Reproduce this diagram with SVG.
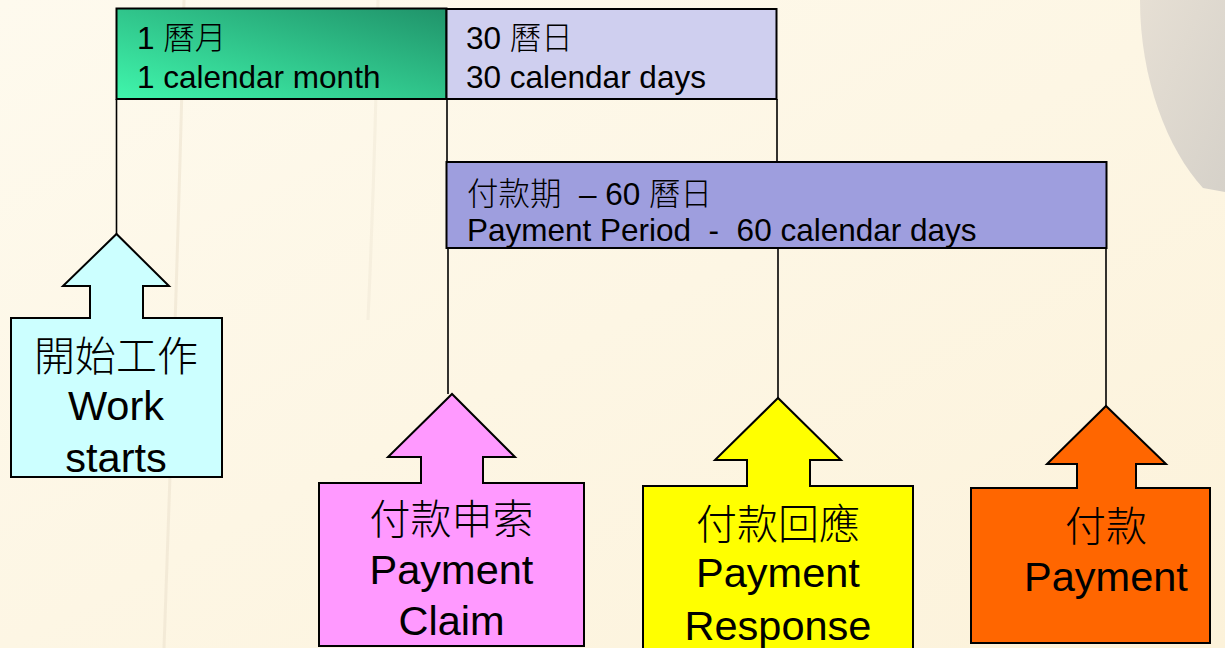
<svg xmlns="http://www.w3.org/2000/svg" width="1225" height="648" viewBox="0 0 1225 648">
<defs>
<linearGradient id="bg" x1="0" y1="0" x2="1" y2="1">
<stop offset="0" stop-color="#FEFAEE"/>
<stop offset="1" stop-color="#FCF2DA"/>
</linearGradient>
<linearGradient id="green" x1="0" y1="1" x2="1" y2="0">
<stop offset="0" stop-color="#40F6AC"/>
<stop offset="1" stop-color="#20936A"/>
</linearGradient>
<linearGradient id="ball" x1="0" y1="0" x2="1" y2="1">
<stop offset="0" stop-color="#E2DBD1"/>
<stop offset="1" stop-color="#CFCBC5"/>
</linearGradient>
</defs>
<style>
.box{stroke:#000;stroke-width:2}
.conn line{stroke:#000;stroke-width:1.6}
.sm{font-family:"Liberation Sans","Noto Sans CJK TC",sans-serif;font-size:31.5px;fill:#000}
.big{font-family:"Liberation Sans","Noto Sans CJK TC",sans-serif;font-size:41.5px;fill:#000;text-anchor:middle}
.cjk{font-family:"Noto Sans CJK TC",sans-serif;font-size:41px;font-weight:300;fill:#000;text-anchor:middle}
.cjks{font-family:"Noto Sans CJK TC",sans-serif;font-weight:300}
</style>
<rect width="1225" height="648" fill="url(#bg)"/>
<path d="M184,0 C180,200 172,420 164,648" fill="none" stroke="#ECE3CE" stroke-width="3" opacity="0.6"/>
<path d="M378,0 C376,120 372,230 368,320" fill="none" stroke="#F0E8D5" stroke-width="3" opacity="0.5"/>
<path d="M1140,0 C1140,80 1168,150 1203,188 L1225,192 L1225,0 Z" fill="url(#ball)" opacity="0.85"/>

<g id="connectors" class="conn">
<line x1="116.5" y1="99" x2="116.5" y2="234"/>
<line x1="447" y1="99" x2="447" y2="162"/>
<line x1="448" y1="248" x2="448" y2="394"/>
<line x1="777" y1="99" x2="777" y2="162"/>
<line x1="778" y1="248" x2="778" y2="398"/>
<line x1="1106" y1="248" x2="1106" y2="406"/>
</g>

<g id="month">
<rect class="box" x="116.5" y="8.5" width="330" height="90.5" fill="url(#green)"/>
<text class="sm" x="137" y="49">1 <tspan class="cjks">曆月</tspan></text>
<text class="sm" x="137" y="88">1 calendar month</text>
</g>

<g id="days30">
<rect class="box" x="446.5" y="9" width="330" height="90" fill="#CFCFEF"/>
<text class="sm" x="466" y="49">30 <tspan class="cjks">曆日</tspan></text>
<text class="sm" x="466" y="88">30 calendar days</text>
</g>

<g id="period">
<rect class="box" x="446.5" y="162" width="660" height="86" fill="#9E9EDE"/>
<text class="sm" x="467" y="205" xml:space="preserve"><tspan class="cjks">付款期</tspan>  – 60 <tspan class="cjks">曆日</tspan></text>
<text class="sm" x="467" y="241" xml:space="preserve">Payment Period  -  60 calendar days</text>
</g>

<g id="work-starts">
<polygon class="box" points="11,318 90,318 90,286 63,286 116.5,234 169,286 143,286 143,318 222,318 222,477 11,477" fill="#CCFFFF"/>
<text class="cjk" x="116" y="371">開始工作</text>
<text class="big" x="116" y="420">Work</text>
<text class="big" x="116" y="472">starts</text>
</g>

<g id="payment-claim">
<polygon class="box" points="319,483 421,483 421,457 388,457 452,394 515,457 483,457 483,483 584,483 584,646 319,646" fill="#FF99FF"/>
<text class="cjk" x="451.5" y="534">付款申索</text>
<text class="big" x="451.5" y="584">Payment</text>
<text class="big" x="451.5" y="635">Claim</text>
</g>

<g id="payment-response">
<polygon class="box" points="643,486 747,486 747,460 715,460 778,398 841,460 810,460 810,486 913,486 913,652 643,652" fill="#FFFF00"/>
<text class="cjk" x="778" y="539">付款回應</text>
<text class="big" x="778" y="587">Payment</text>
<text class="big" x="778" y="640">Response</text>
</g>

<g id="payment">
<polygon class="box" points="971,488 1077,488 1077,464 1047,464 1106,406 1166,464 1136,464 1136,488 1210,488 1210,643 971,643" fill="#FF6600"/>
<text class="cjk" x="1106" y="541">付款</text>
<text class="big" x="1106" y="591">Payment</text>
</g>
</svg>
